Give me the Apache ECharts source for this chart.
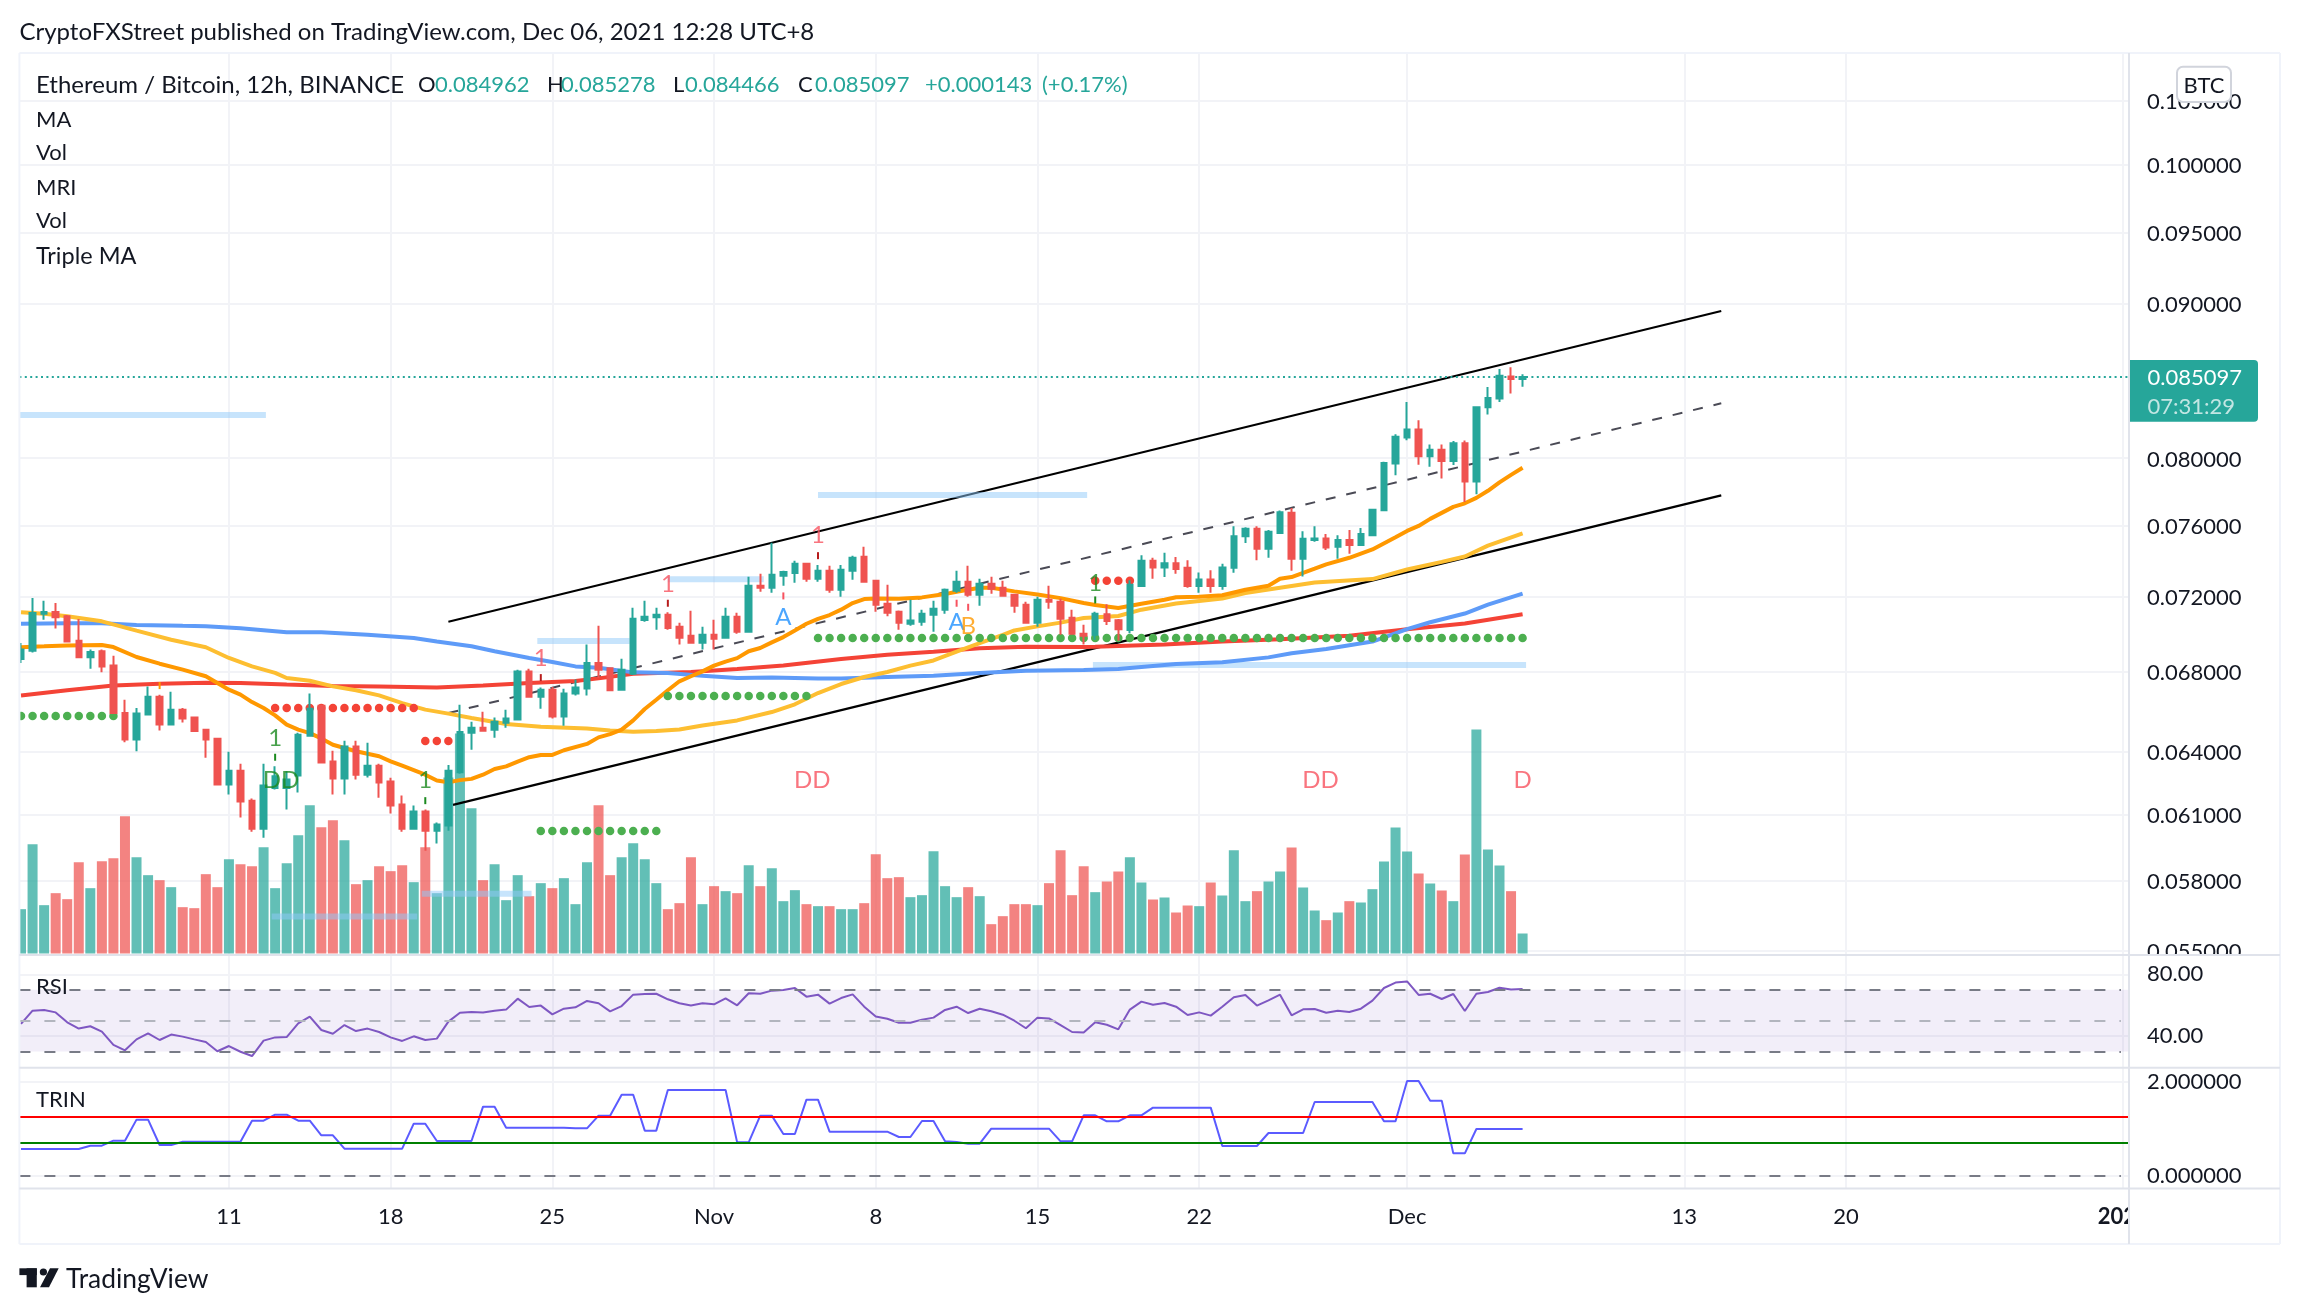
<!DOCTYPE html>
<html>
<head>
<meta charset="utf-8">
<title>ETH/BTC 12h</title>
<script src="https://cdn.jsdelivr.net/npm/echarts@6/dist/echarts.min.js"></script>
<style>
html, body { margin: 0; padding: 0; background: #fff; }
#main { width: 2300px; height: 1314px; }
</style>
</head>
<body>
<div id="main"></div>
<script>
// x values are bar numbers, bar 0 = Oct 2 00:00, two bars a day
var candleOpen = [
.06866,.06910,.07107,.07116,.07093,.06963,.06875,.06907,.06832,.06590,
.06458,.06582,.06672,.06533,.06607,.06567,.06507,.06462,.06241,.06307,
.06165,.06035,.06225,.06225,.06284,.06477,.06627,.06351,.06270,.06424,
.06288,.06331,.06255,.06147,.06035,.06114,.06026,.06049,.06300,.06492,
.06517,.06507,.06542,.06557,.06801,.06672,.06708,.06572,.06688,.06714,
.06845,.06818,.06708,.06790,.07073,.07088,.07102,.07037,.06989,.06952,
.06994,.06979,.07091,.07010,.07260,.07249,.07315,.07331,.07382,.07299,
.07343,.07238,.07343,.07422,.07288,.07161,.07118,.07053,.07064,.07102,
.07129,.07232,.07282,.07210,.07271,.07249,.07210,.07156,.07059,.07183,
.07172,.07086,.07000,.06994,.07104,.07072,.07019,.07258,.07400,.07362,
.07386,.07360,.07258,.07294,.07258,.07360,.07538,.07581,.07467,.07557,
.07675,.07411,.07517,.07526,.07479,.07517,.07488,.07545,.07689,.07968,
.08126,.08177,.08011,.08051,.07983,.08092,.07859,.08316,.08372,.08512,.08496];
var candleClose = [
.06916,.07111,.07116,.07088,.06959,.06875,.06903,.06828,.06590,.06458,
.06587,.06672,.06533,.06607,.06562,.06501,.06458,.06241,.06307,.06161,
.06035,.06236,.06281,.06265,.06482,.06612,.06346,.06270,.06424,.06288,
.06331,.06251,.06142,.06035,.06114,.06026,.06054,.06307,.06495,.06517,
.06502,.06547,.06562,.06801,.06672,.06708,.06572,.06688,.06719,.06845,
.06811,.06705,.06811,.07080,.07091,.07102,.07030,.06979,.06952,.06994,
.06973,.07091,.07010,.07260,.07249,.07321,.07337,.07382,.07299,.07343,
.07238,.07349,.07416,.07282,.07156,.07113,.07059,.07070,.07107,.07134,
.07238,.07282,.07210,.07271,.07243,.07205,.07150,.07059,.07183,.07172,
.07080,.07000,.06989,.07107,.07068,.07024,.07265,.07400,.07362,.07386,
.07353,.07258,.07294,.07258,.07362,.07538,.07581,.07467,.07564,.07678,
.07411,.07524,.07526,.07474,.07517,.07488,.07552,.07692,.07971,.08131,
.08177,.08011,.08051,.07983,.08092,.07859,.08316,.08375,.08517,.08496,.08510];
var candleLow = [
.06845,.06901,.07075,.07028,.06959,.06875,.06816,.06797,.06590,.06445,
.06401,.06582,.06503,.06533,.06543,.06497,.06370,.06241,.06194,.06086,
.06021,.05994,.06217,.06124,.06203,.06477,.06346,.06194,.06194,.06265,
.06274,.06179,.06105,.06021,.06035,.05935,.05967,.06026,.06293,.06409,
.06497,.06467,.06517,.06552,.06672,.06612,.06562,.06527,.06678,.06678,
.06768,.06700,.06703,.06784,.07064,.07021,.07021,.06942,.06947,.06916,
.06916,.06979,.07000,.07010,.07227,.07222,.07260,.07277,.07282,.07282,
.07222,.07200,.07293,.07282,.07118,.07093,.07021,.07043,.07043,.07010,
.07107,.07222,.07200,.07150,.07216,.07200,.07113,.07053,.07037,.07134,
.06994,.06994,.06942,.06968,.07046,.06963,.07002,.07254,.07299,.07308,
.07327,.07249,.07222,.07222,.07238,.07332,.07500,.07402,.07416,.07552,
.07343,.07311,.07507,.07460,.07411,.07439,.07488,.07545,.07689,.07897,
.08110,.07960,.07948,.07877,.07958,.07738,.07784,.08270,.08349,.08403,.08447];
var candleHigh = [
.06950,.07192,.07178,.07165,.07100,.07079,.06916,.06916,.06884,.06657,
.06615,.06724,.06682,.06698,.06615,.06572,.06512,.06467,.06399,.06341,
.06175,.06341,.06328,.06304,.06492,.06688,.06632,.06404,.06453,.06453,
.06443,.06341,.06273,.06189,.06142,.06124,.06063,.06334,.06632,.06547,
.06597,.06567,.06607,.06811,.06816,.06719,.06722,.06713,.06760,.06942,
.07043,.06818,.06868,.07140,.07178,.07140,.07115,.07059,.07123,.07037,
.07075,.07140,.07113,.07310,.07326,.07501,.07343,.07399,.07388,.07376,
.07371,.07376,.07427,.07479,.07293,.07266,.07124,.07183,.07129,.07178,
.07245,.07343,.07371,.07299,.07310,.07288,.07216,.07172,.07200,.07260,
.07188,.07129,.07048,.07118,.07158,.07079,.07290,.07430,.07416,.07444,
.07421,.07402,.07334,.07346,.07383,.07596,.07591,.07596,.07574,.07688,
.07702,.07567,.07596,.07552,.07545,.07574,.07586,.07697,.07978,.08147,
.08349,.08234,.08084,.08084,.08105,.08108,.08316,.08445,.08562,.08573,.08528];
var volume = [
133,328,145,181,163,274,196,277,286,412,
289,235,220,199,139,136,238,199,283,268,
262,319,196,271,355,445,379,400,340,208,
220,262,247,265,214,319,181,528,660,436,
220,268,160,235,172,211,196,226,148,274,
445,235,289,331,283,211,133,151,289,148,
202,187,181,265,202,256,157,190,148,142,
142,133,133,151,298,226,229,169,175,307,
202,169,199,172,88,112,148,148,145,211,
310,175,262,184,216,246,289,213,162,168,
123,144,142,213,174,310,157,187,216,246,
318,198,129,100,123,157,153,193,276,378,
306,240,210,189,157,297,672,312,264,187,60];

// moving averages, read at the bars listed
var maFastBars = [0,1,2,4,7,8,10,12,14,16,18,19,20,21,22,23,24,25,26,27,28,29,31,32,33,35,36,37,38,39,40,41,42,43,44,45,46,47,49,50,51,52,53,54,55,56,57,58,59,60,61,62,63,64,65,66,67,68,69,70,71,72,73,74,76,78,80,81,82,83,84,86,88,90,92,93,95,97,99,100,102,104,106,108,109,110,112,113,115,117,119,120,121,122,124,125,126,127,128,129,130];
var maFast = [.06928,.06931,.06933,.06938,.06940,.06929,.06877,.06842,.06811,.06777,.06708,.06683,.06645,.06615,.06578,.06532,.06507,.06490,.06464,.06433,.06417,.06401,.06377,.06352,.06331,.06288,.06260,.06252,.06262,.06268,.06288,.06315,.06328,.06351,.06372,.06383,.06383,.06406,.06437,.06469,.06485,.06507,.06553,.06610,.06657,.06705,.06751,.06777,.06802,.06832,.06853,.06871,.06907,.06924,.06954,.06982,.07017,.07053,.07079,.07100,.07129,.07165,.07187,.07190,.07189,.07196,.07214,.07227,.07238,.07249,.07249,.07229,.07212,.07192,.07165,.07154,.07138,.07161,.07183,.07197,.07199,.07208,.07238,.07260,.07299,.07308,.07355,.07379,.07416,.07463,.07533,.07569,.07598,.07639,.07709,.07730,.07762,.07804,.07854,.07899,.07942];
var maMidBars = [0,2,4,7,10,13,16,18,20,22,23,25,27,29,31,33,35,37,39,42,45,49,51,53,55,57,59,62,65,67,69,71,73,75,77,79,81,83,85,86,88,90,92,95,97,100,104,106,109,112,117,120,123,125,127,130];
var maMid = [.07115,.07107,.07093,.07066,.07016,.06968,.06928,.06872,.06828,.06794,.06768,.06754,.06725,.06705,.06679,.06640,.06607,.06587,.06565,.06535,.06522,.06513,.06503,.06497,.06500,.06508,.06528,.06553,.06595,.06634,.06691,.06737,.06773,.06799,.06832,.06859,.06905,.06950,.06994,.07017,.07039,.07059,.07084,.07095,.07129,.07163,.07190,.07220,.07249,.07278,.07297,.07350,.07393,.07423,.07485,.07555];
var maSlowBars = [0,4,7,10,14,16,19,23,26,30,34,36,39,41,44,46,48,50,53,56,59,62,65,69,71,75,79,83,87,92,95,100,104,108,110,113,117,120,122,125,127,130];
var maSlow = [.07053,.07056,.07056,.07047,.07042,.07040,.07029,.07008,.07007,.06994,.06977,.06958,.06933,.06907,.06872,.06851,.06828,.06821,.06797,.06794,.06780,.06768,.06771,.06765,.06765,.06773,.06780,.06794,.06806,.06809,.06815,.06840,.06849,.06875,.06897,.06919,.06958,.07024,.07061,.07108,.07156,.07217];
var maLongBars = [0,4,8,12,16,19,23,27,31,36,40,44,48,50,53,58,62,66,71,75,79,83,87,92,93,99,104,109,115,120,125,130];
var maLong = [.06679,.06705,.06729,.06739,.06744,.06742,.06734,.06727,.06724,.06719,.06730,.06742,.06752,.06766,.06790,.06799,.06814,.06833,.06866,.06889,.06905,.06923,.06931,.06930,.06931,.06942,.06958,.06971,.06989,.07024,.07054,.07104];

var rsi = [
47.8,56.4,56.9,55.3,48.9,44.8,46.3,42.8,34.2,30.7,
37.8,41.7,37.4,40.9,39.6,37.8,36.1,30.1,33.5,29.8,
27.0,37.0,39.1,39.3,48.2,52.5,43.9,41.5,47.1,43.2,
44.8,42.6,39.1,36.8,39.8,37.4,38.3,49.3,55.1,55.6,
55.3,56.4,57.1,64.2,58.8,59.7,54.0,57.7,58.6,62.7,
61.2,56.0,59.4,66.8,67.2,67.4,63.8,61.2,59.7,61.2,
60.5,64.4,59.9,67.7,67.4,69.4,69.8,71.1,65.5,66.8,
61.0,64.6,67.0,59.0,52.7,51.2,48.6,48.6,50.6,51.9,
56.9,59.0,54.9,57.7,56.0,53.8,49.9,45.0,51.9,51.4,
47.1,42.6,42.2,48.9,47.3,44.3,57.1,62.3,60.3,61.4,
59.0,53.6,55.3,53.2,59.0,65.1,66.6,59.7,63.1,66.8,
53.4,57.3,57.5,55.1,56.4,55.6,57.7,62.9,71.1,74.6,
75.4,66.6,67.4,64.0,67.2,56.2,67.4,68.5,71.3,70.2,70.5];
var trin = [
.574,.574,.574,.574,.574,.574,.645,.645,.752,.752,
1.199,1.199,.660,.660,.730,.730,.730,.730,.730,.730,
1.177,1.177,1.305,1.305,1.177,1.177,.865,.865,.582,.582,
.582,.582,.582,.582,1.113,1.113,.745,.745,.745,.745,
1.475,1.475,1.028,1.028,1.028,1.028,1.028,1.028,1.014,1.014,
1.284,1.284,1.730,1.730,.965,.965,1.830,1.830,1.830,1.830,
1.830,1.830,.716,.716,1.284,1.284,.894,.894,1.624,1.624,
.943,.943,.943,.943,.943,.943,.830,.830,1.170,1.170,
.738,.723,.688,.688,1.007,1.007,1.007,1.007,1.007,1.007,
.738,.738,1.291,1.291,1.163,1.163,1.291,1.291,1.454,1.454,
1.454,1.454,1.454,1.454,.638,.638,.638,.638,.915,.915,
.915,.915,1.574,1.574,1.574,1.574,1.574,1.574,1.163,1.163,
2.021,2.021,1.603,1.603,.482,.482,1.000,1.000,1.000,1.000,1.000];

var priceTicks = [.105,.1,.095,.09,.08,.076,.072,.068,.064,.061,.058,.055];
var dateTickBars = [18,32,46,60,74,88,102,120,144,158,182];
var dateTickLabels = ['11','18','25','Nov','8','15','22','Dec','13','20','2022'];
var rsiLevels = [70,50,30];
var trinUpper = 1.262, trinLower = 0.70;
var lastPrice = 0.085097;

// channel: [bar, price] ends
var channelUpper = [[37,.07064],[147.2,.08948]];
var channelMiddle = [[37,.06590],[147.2,.08341]];
var channelLower = [[37.4,.06145],[147.2,.07777]];
// light blue levels: from bar, to bar, price
var levelBars = [[-0.14,21.2,.08267],[56,64.3,.07296],[44.7,52.7,.06961],[69,92.3,.07779],[92.8,130.3,.06835],[34.7,44.2,.05743],[21.7,34.3,.05645]];
// dot rows: from bar, to bar, price
var greenDots = [[0,8,.06575],[45,55,.06024],[56,68,.06676],[69,130,.06977]];
var redDots = [[22,34,.06615],[35,37,.06451],[93,96,.07288]];
// letters on the chart: bar, price, text, colour
var letterMarks = [
  [45,.06872,'1','#F7525F'],[56,.0727,'1','#F7525F'],[69,.07546,'1','#F7525F'],
  [22,.06466,'1','#1B8A1F'],[35,.06263,'1','#1B8A1F'],[93,.07275,'1','#1B8A1F'],
  [66,.0709,'A','#1E90FF'],[81,.07059,'A','#1E90FF'],[82,.07041,'B','#FF9800'],
  [22.5,.0626,'DD','#1B8A1F'],[68.5,.0626,'DD','#F7525F'],[112.5,.0626,'DD','#F7525F'],[130,.0626,'D','#F7525F']
];
// small ticks under the letters: bar, price, colour
var tickMarks = [
  [22,.06372,'#1B8A1F'],[35,.06165,'#1B8A1F'],[12,.06729,'#FF9800'],[45,.0677,'#B71C1C'],
  [56,.07164,'#B71C1C'],[69,.07428,'#B71C1C'],[66,.07204,'#F7525F'],[81,.07164,'#F7525F'],
  [82,.07142,'#F7525F'],[93,.07182,'#1B8A1F']
];

var FONT = 'Lato, "Open Sans", sans-serif';
var INK = '#131722', UP = '#26A69A', DOWN = '#EF5350', GRID = '#F2F3F7', PANE = '#E0E3EB';
var LEFT = 19.4, RIGHT = 2129, FRAME_R = 2280;
var XMIN = -0.14, XMAX = 182.5;

function bars(list) { return list.map(function (v, i) { return [i, v]; }); }
function pairs(xs, ys) { return xs.map(function (x, i) { return [x, ys[i]]; }); }

var candles = candleOpen.map(function (o, i) { return [i, o, candleClose[i], candleLow[i], candleHigh[i]]; });
var volumeData = volume.map(function (v, i) {
  return { value: [i, v], itemStyle: { color: candleClose[i] >= candleOpen[i] ? 'rgba(38,166,154,.72)' : 'rgba(239,83,80,.72)' } };
});

function dots(rows) {
  var out = [];
  rows.forEach(function (r) { for (var i = r[0]; i <= r[1]; i++) out.push([i, r[2]]); });
  return out;
}

function maLine(name, data, color) {
  return { name: name, type: 'line', xAxisIndex: 0, yAxisIndex: 0, data: data, showSymbol: false, z: 3,
    lineStyle: { color: color, width: 4 }, silent: true };
}
function channelLine(name, data, type) {
  return { name: name, type: 'line', xAxisIndex: 0, yAxisIndex: 0, data: data, showSymbol: false, z: 2,
    lineStyle: type ? { color: '#4A4A55', width: 2, type: type } : { color: '#000', width: 2.2 } };
}
function levelLine(row, i) {
  return { name: 'level' + i, type: 'line', xAxisIndex: 0, yAxisIndex: 0, showSymbol: false, z: 2,
    data: [[row[0], row[2]], [row[1], row[2]]], lineStyle: { color: 'rgba(144,202,249,.5)', width: 6, cap: 'butt' } };
}

var series = [
  // price grid lines with their labels on the right
  { name: 'priceGrid', type: 'line', xAxisIndex: 0, yAxisIndex: 0, data: [[0, lastPrice]], showSymbol: false, z: 0,
    lineStyle: { opacity: 0 },
    markLine: { silent: true, symbol: 'none', z: 0, animation: false, precision: 6,
      lineStyle: { color: GRID, width: 2, type: 'solid' },
      label: { show: true, position: 'end', distance: 18, offset: [0, 1.5], color: INK, fontFamily: FONT, fontSize: 22,
        formatter: function (p) { return (+p.value).toFixed(6); } },
      data: priceTicks.map(function (v) { return { yAxis: v }; }) } },
  { name: 'volume', type: 'bar', xAxisIndex: 0, yAxisIndex: 1, barWidth: 10, data: volumeData, z: 1 },
  channelLine('channelUpper', channelUpper),
  channelLine('channelMiddle', channelMiddle, [10, 11]),
  channelLine('channelLower', channelLower),
  maLine('maLong', pairs(maLongBars, maLong), '#F44336'),
  maLine('maSlow', pairs(maSlowBars, maSlow), '#5E9BF8'),
  maLine('maMid', pairs(maMidBars, maMid), '#FDBE31'),
  maLine('maFast', pairs(maFastBars, maFast), '#FF9800'),
  { name: 'lastPrice', type: 'line', xAxisIndex: 0, yAxisIndex: 0, showSymbol: false, z: 2,
    data: [[XMIN, lastPrice], [XMAX, lastPrice]], lineStyle: { color: UP, width: 2, type: [2, 3.4] } },
  { name: 'greenDots', type: 'scatter', xAxisIndex: 0, yAxisIndex: 0, data: dots(greenDots), symbolSize: 8.5, z: 4,
    itemStyle: { color: '#4CAF50', opacity: 1 } },
  { name: 'redDots', type: 'scatter', xAxisIndex: 0, yAxisIndex: 0, data: dots(redDots), symbolSize: 8.5, z: 4,
    itemStyle: { color: '#F44336', opacity: 1 } },
  { name: 'price', type: 'candlestick', xAxisIndex: 0, yAxisIndex: 0, data: candles, barWidth: 6, z: 5,
    encode: { x: 0, y: [1, 2, 3, 4] },
    itemStyle: { color: UP, color0: DOWN, borderColor: UP, borderColor0: DOWN, borderWidth: 2 } },
  { name: 'ticks', type: 'scatter', xAxisIndex: 0, yAxisIndex: 0, symbol: 'rect', symbolSize: [2, 7], z: 6,
    data: tickMarks.map(function (m) { return { value: [m[0], m[1]], itemStyle: { color: m[2], opacity: 1 } }; }) },
  { name: 'letters', type: 'scatter', xAxisIndex: 0, yAxisIndex: 0, symbolSize: 1, z: 7,
    itemStyle: { color: 'transparent' },
    data: letterMarks.map(function (m) {
      return { value: [m[0], m[1]], label: { show: true, position: 'inside', formatter: m[2], color: m[3], fontFamily: FONT, fontSize: 24 } };
    }) },

  { name: 'rsi', type: 'line', xAxisIndex: 1, yAxisIndex: 2, data: bars(rsi), showSymbol: false, z: 3,
    lineStyle: { color: '#7E57C2', width: 2 },
    markArea: { silent: true, itemStyle: { color: 'rgba(126,87,194,.1)' }, data: [[{ yAxis: 70 }, { yAxis: 30 }]] },
    markLine: { silent: true, symbol: 'none', label: { show: false }, animation: false,
      data: rsiLevels.map(function (v) {
        return [{ coord: [XMIN, v], lineStyle: { color: v === 50 ? '#B2B5BE' : '#787B86', width: 2, type: [11, 14] } }, { coord: [181.8, v] }];
      }) } },

  { name: 'trin', type: 'line', xAxisIndex: 2, yAxisIndex: 3, data: bars(trin), showSymbol: false, z: 3,
    lineStyle: { color: '#5B5BFF', width: 2 },
    markLine: { silent: true, symbol: 'none', label: { show: false }, animation: false, precision: 3,
      data: [
        { yAxis: trinUpper, lineStyle: { color: '#FF0000', width: 2, type: 'solid' } },
        { yAxis: trinLower, lineStyle: { color: '#008000', width: 2, type: 'solid' } },
        [{ coord: [XMIN, 0], lineStyle: { color: '#787B86', width: 2, type: [11, 14] } }, { coord: [181.8, 0] }]
      ] } }
].concat(levelBars.map(levelLine));

function dateAxis(gridIndex, showLabels) {
  return { type: 'value', gridIndex: gridIndex, min: XMIN, max: XMAX, axisLine: { show: false },
    axisTick: { show: false, customValues: dateTickBars },
    splitLine: { show: true, lineStyle: { color: GRID, width: 2 } },
    axisLabel: { show: showLabels, customValues: dateTickBars, margin: 17, color: INK, fontFamily: FONT, fontSize: 22,
      formatter: function (v) {
        var t = dateTickLabels[dateTickBars.indexOf(v)];
        return t === '2022' ? '{b|2022}' : t;
      },
      rich: { b: { fontWeight: 'bold', color: INK, fontFamily: FONT, fontSize: 22 } } } };
}
function paneAxis(gridIndex, min, max, ticks, digits) {
  return { type: 'value', gridIndex: gridIndex, min: min, max: max, position: 'right', axisLine: { show: false },
    axisTick: { show: false, customValues: ticks },
    splitLine: { show: true, lineStyle: { color: GRID, width: 2 } },
    axisLabel: { customValues: ticks, margin: 18, padding: [3, 0, 0, 0], color: INK, fontFamily: FONT, fontSize: 22,
      formatter: function (v) { return v.toFixed(digits); } } };
}

function text(str, x, y, color, size, extra) {
  var style = { text: str, x: x, y: y + 1.2, fill: color || INK, font: (size || 22) + 'px ' + FONT, textVerticalAlign: 'middle', textAlign: 'left' };
  return { type: 'text', z: 120, silent: true, style: Object.assign(style, extra || {}) };
}
function line(x1, y1, x2, y2, color, width) {
  return { type: 'line', z: 110, silent: true, shape: { x1: x1, y1: y1, x2: x2, y2: y2 }, style: { stroke: color, lineWidth: width } };
}
function box(x, y, w, h, fill, extra) {
  return { type: 'rect', z: 105, silent: true, shape: Object.assign({ x: x, y: y, width: w, height: h }, extra && extra.shape || {}),
    style: Object.assign({ fill: fill }, extra && extra.style || {}) };
}

var graphics = [
  // covers so marks and axis labels get cut at the pane edges
  box(0, 53, LEFT, 1191, '#fff'),
  box(RIGHT + 1, 956, FRAME_R - RIGHT - 2, 6, '#fff'),
  box(RIGHT + 1, 1190, FRAME_R - RIGHT - 2, 52, '#fff'),
  // frame
  line(LEFT, 53, FRAME_R, 53, '#F0F3FA', 2),
  line(LEFT, 53, LEFT, 1244, '#F0F3FA', 2),
  line(LEFT, 1244, FRAME_R, 1244, '#F0F3FA', 2),
  line(FRAME_R, 53, FRAME_R, 1244, '#F0F3FA', 2),
  line(LEFT, 955, FRAME_R, 955, PANE, 2),
  line(LEFT, 1067.7, FRAME_R, 1067.7, PANE, 2),
  line(LEFT, 1188.6, FRAME_R, 1188.6, PANE, 2),
  line(RIGHT, 53, RIGHT, 1244, PANE, 2),
  // header
  text('CryptoFXStreet published on TradingView.com, Dec 06, 2021 12:28 UTC+8', 19.5, 30.7, INK, 24),
  text('Ethereum / Bitcoin, 12h, BINANCE', 36, 84, INK, 24),
  text('O', 418, 84), text('0.084962', 435, 84, UP),
  text('H', 547, 84), text('0.085278', 561, 84, UP),
  text('L', 673, 84), text('0.084466', 685, 84, UP),
  text('C', 798, 84), text('0.085097', 815, 84, UP),
  text('+0.000143', 925, 84, UP), text('(+0.17%)', 1042, 84, UP),
  text('MA', 36, 119), text('Vol', 36, 152), text('MRI', 36, 186.7), text('Vol', 36, 220), text('Triple MA', 36, 255, INK, 23.5),
  text('RSI', 36, 986), text('TRIN', 36, 1099),
  // last price tag and currency button
  box(2128, 360, 130, 61.7, UP, { shape: { r: [0, 4, 4, 0] } }),
  text('0.085097', 2147.5, 377, '#fff', 22),
  text('07:31:29', 2147.5, 405.7, 'rgba(255,255,255,.72)', 22),
  box(2177, 66.7, 54, 35.3, '#fff', { shape: { r: 6 }, style: { stroke: '#D1D4DC', lineWidth: 2 } }),
  text('BTC', 2204, 84.5, INK, 22, { textAlign: 'center' }),
  // logo
  box(19.4, 1268.3, 17.4, 6.8, INK),
  box(26.6, 1268.3, 10.2, 19, INK),
  { type: 'circle', z: 105, silent: true, shape: { cx: 43.4, cy: 1272, r: 3.6 }, style: { fill: INK } },
  { type: 'polygon', z: 105, silent: true, shape: { points: [[50, 1268.3], [58.7, 1268.3], [49, 1287.3], [40, 1287.3]] }, style: { fill: INK } },
  text('TradingView', 66, 1278, INK, 26.4)
];

var option = {
  animation: false,
  backgroundColor: '#fff',
  grid: [
    { left: LEFT, top: 53, width: RIGHT - LEFT, height: 902 },
    { left: LEFT, top: 955, width: RIGHT - LEFT, height: 112.7 },
    { left: LEFT, top: 1067.7, width: RIGHT - LEFT, height: 120.9 }
  ],
  xAxis: [dateAxis(0, false), dateAxis(1, false), dateAxis(2, true)],
  yAxis: [
    { type: 'log', gridIndex: 0, min: 0.05482, max: 0.10888, show: false, splitLine: { show: false } },
    { type: 'value', gridIndex: 0, min: -4.5, max: 2701.5, show: false, splitLine: { show: false } },
    paneAxis(1, 19.45, 92.5, [40, 80], 2),
    paneAxis(2, -0.268, 2.304, [0, 2], 6)
  ],
  series: series,
  graphic: { elements: graphics }
};

var myChart = echarts.init(document.getElementById('main'));
myChart.setOption(option);
</script>
</body>
</html>
